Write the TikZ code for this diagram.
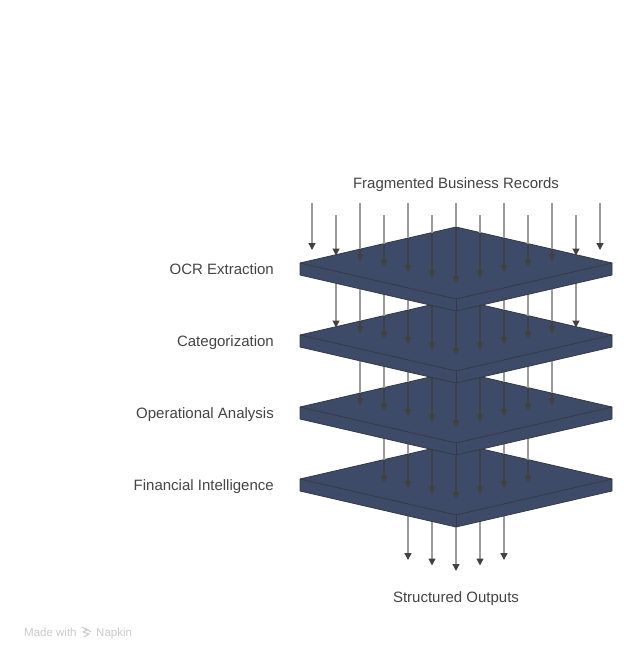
\documentclass[tikz,border=0pt]{standalone}
\usepackage{fontspec}
\setmainfont{Liberation Sans}
\usetikzlibrary{arrows.meta}
\definecolor{plate}{HTML}{3D4A68}
\definecolor{edge}{HTML}{353A45}
\definecolor{flowgray}{HTML}{9B9B9B}
\definecolor{flowdarkc}{HTML}{3E4048}
\definecolor{tipc}{HTML}{424242}
\definecolor{txt}{HTML}{444444}
\definecolor{wm}{HTML}{CACACA}
\tikzset{
  platefill/.style={fill=plate,draw=edge,line width=0.8pt,line join=round},
  plateedge/.style={draw=edge,line width=0.8pt,line join=round},
  flow/.style={draw=flowgray,line width=1.3pt,-{Triangle[length=7pt,width=7pt,fill=tipc,color=tipc]}},
  flowdark/.style={draw=flowdarkc,line width=1.3pt},
  lbl/.style={text=txt,font=\fontsize{15pt}{17pt}\selectfont,inner sep=0pt},
  wmtext/.style={text=wm,font=\fontsize{11.5pt}{13pt}\selectfont,inner sep=0pt,anchor=base west}
}
\newcommand\myplate[1]{%
  \pgfmathsetmacro\cy{263+72*(#1-1)}%
  \coordinate (p#1L) at (300,\cy);
  \coordinate (p#1T) at (456,{\cy-36});
  \coordinate (p#1R) at (612,\cy);
  \coordinate (p#1B) at (456,{\cy+36});
  \path[platefill] (p#1L) -- (p#1T) -- (p#1R) -- ([yshift=-12pt]p#1R) -- ([yshift=-12pt]p#1B) -- ([yshift=-12pt]p#1L) -- cycle;
  \draw[plateedge] (p#1L) -- (p#1B) -- (p#1R);
  \draw[plateedge] (p#1B) -- ([yshift=-12pt]p#1B);
}
\newcommand\flowlevel[3]{%
  \foreach \i in {#2,...,#3}{%
    \pgfmathsetmacro\xx{312+24*\i}%
    \pgfmathsetmacro\dd{abs(\xx-456)}%
    \pgfmathsetmacro\ye{283+72*#1-0.229*\dd}%
    \ifnum#1=0 \pgfmathsetmacro\ys{isodd(\i)?215:203}\else\pgfmathsetmacro\ys{263+72*(#1-1)}\fi
    \coordinate (s#1-\i) at (\xx,\ys);
    \coordinate (e#1-\i) at (\xx,\ye);
    \draw[flow] (s#1-\i) -- (e#1-\i);
    \ifnum#1<4
      \pgfmathsetmacro\yb{263+72*#1-36+0.2308*\dd}%
      \pgfmathtruncatemacro\ok{(\ye-5>\yb)?1:0}%
      \ifnum\ok=1 \draw[flowdark] (\xx,\yb) -- (\xx,{\ye-5}); \fi
    \fi
  }%
}
\begin{document}
\begin{tikzpicture}[x=1pt,y=-1pt]
\useasboundingbox[fill=white] (0,0) rectangle (636,660);
\flowlevel{4}{4}{8}
\myplate{4}
\flowlevel{3}{3}{9}
\myplate{3}
\flowlevel{2}{2}{10}
\myplate{2}
\flowlevel{1}{1}{11}
\myplate{1}
\flowlevel{0}{0}{12}
\node[lbl,anchor=base] (top) at (456,188.5) {Fragmented Business Records};
\node[lbl,anchor=base] (bottom) at (456,602.5) {Structured Outputs};
\node[lbl,anchor=base east] (l1) at (274,274.5) {OCR Extraction};
\node[lbl,anchor=base east] (l2) at (274,346.5) {Categorization};
\node[lbl,anchor=base east] (l3) at (274,418.5) {Operational Analysis};
\node[lbl,anchor=base east] (l4) at (274,490.5) {Financial Intelligence};
\node[wmtext] (wm1) at (24,636) {Made with};
\node[wmtext] (wm2) at (96,636) {Napkin};
\coordinate (logo) at (82,632);
\draw[wm,line width=1pt] ([shift={(0,-5)}]logo) -- ([shift={(5,-2)}]logo) -- ([shift={(1,0)}]logo);
\draw[wm,line width=1pt] ([shift={(1,0)}]logo) -- ([shift={(7,2)}]logo) -- ([shift={(2,5)}]logo);
\draw[wm,line width=1pt] ([shift={(3,-4)}]logo) -- ([shift={(9,0)}]logo);
\end{tikzpicture}
\end{document}
